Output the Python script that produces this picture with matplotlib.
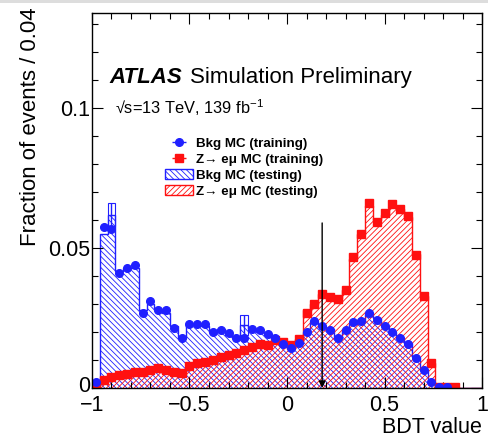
import numpy as np
import matplotlib
matplotlib.use("Agg")
import matplotlib.pyplot as plt
from matplotlib.patches import Patch, Rectangle
from matplotlib.transforms import ScaledTranslation

plt.rcParams['font.family'] = ['Liberation Sans', 'DejaVu Sans']
plt.rcParams['mathtext.default'] = 'regular'
plt.rcParams['hatch.linewidth'] = 0.6

# 50 bins of width 0.04 between -1 and 1
bin_edges = np.linspace(-1, 1, 51)

bkg_train = [0.002, 0.0575, 0.057, 0.041, 0.043, 0.044, 0.027, 0.031, 0.028, 0.028,
             0.0215, 0.018, 0.023, 0.023, 0.0228, 0.020, 0.0207, 0.0196, 0.018, 0.018,
             0.021, 0.0207, 0.0192, 0.018, 0.0157, 0.0143, 0.016, 0.020, 0.024, 0.022,
             0.0207, 0.018, 0.0207, 0.0236, 0.024, 0.027, 0.0245, 0.022, 0.020, 0.018,
             0.0157, 0.0107, 0.0064, 0.002, 0.0003, 0.0003, 0, 0, 0, 0]
bkg_test = [0.002, 0.055, 0.062, 0.042, 0.043, 0.043, 0.028, 0.030, 0.028, 0.027,
            0.022, 0.018, 0.023, 0.023, 0.022, 0.020, 0.021, 0.019, 0.018, 0.0225,
            0.021, 0.020, 0.019, 0.018, 0.016, 0.0145, 0.016, 0.020, 0.024, 0.022,
            0.021, 0.018, 0.021, 0.023, 0.024, 0.027, 0.025, 0.022, 0.020, 0.018,
            0.016, 0.011, 0.0065, 0.002, 0.0003, 0, 0, 0, 0, 0]
bkg_test_err = [0, 0, 0.004, 0, 0, 0, 0, 0, 0, 0,
                0, 0, 0, 0, 0, 0, 0, 0, 0, 0.0035,
                0, 0, 0, 0, 0, 0, 0, 0, 0, 0,
                0, 0, 0, 0, 0, 0, 0, 0, 0, 0,
                0, 0, 0, 0, 0, 0, 0, 0, 0, 0]
sig_train = [0.001, 0.003, 0.004, 0.0046, 0.005, 0.0057, 0.0057, 0.0064, 0.0071, 0.0064,
             0.0057, 0.0054, 0.0078, 0.009, 0.0093, 0.010, 0.011, 0.0118, 0.0125, 0.0136,
             0.0146, 0.0157, 0.0154, 0.017, 0.0164, 0.0155, 0.0175, 0.027, 0.030, 0.0335,
             0.0325, 0.0318, 0.035, 0.047, 0.055, 0.066, 0.0594, 0.0625, 0.0657, 0.064,
             0.0614, 0.0475, 0.033, 0.009, 0.0004, 0.0004, 0.0004, 0, 0, 0]
sig_test = [0.001, 0.003, 0.004, 0.0048, 0.005, 0.0058, 0.006, 0.0065, 0.007, 0.0065,
            0.006, 0.0055, 0.0078, 0.0088, 0.0095, 0.010, 0.011, 0.012, 0.0125, 0.0135,
            0.0148, 0.0155, 0.0155, 0.0168, 0.0165, 0.0158, 0.0175, 0.028, 0.030, 0.0335,
            0.032, 0.032, 0.035, 0.046, 0.055, 0.065, 0.060, 0.062, 0.065, 0.064,
            0.061, 0.048, 0.033, 0.009, 0.0004, 0.0003, 0.0003, 0, 0, 0]

bdt_cut = 0.18
cut_arrow_top = 0.059

blue = '#2020ff'
red = '#ff1010'
blue_hatch = '\\' * 6
red_hatch = '/' * 6

fig = plt.figure(figsize=(4.89, 4.37), dpi=100)
ax = fig.add_axes([0.188, 0.112, 0.798, 0.858])

# testing histograms (hatched)
ax.stairs(bkg_test, bin_edges, fill=True, facecolor='none', edgecolor=blue,
          hatch=blue_hatch, lw=1.0)
ax.stairs(sig_test, bin_edges, fill=True, facecolor='none', edgecolor=red,
          hatch=red_hatch, lw=1.0)

centers = 0.5 * (bin_edges[:-1] + bin_edges[1:])
bkg_test_a = np.array(bkg_test)
bkg_err_a = np.array(bkg_test_err)
has_err = bkg_err_a > 0
ax.bar(centers[has_err], 2 * bkg_err_a[has_err], width=0.04,
       bottom=bkg_test_a[has_err] - bkg_err_a[has_err],
       facecolor='none', edgecolor=blue, lw=0.8)
ax.errorbar(centers[has_err], bkg_test_a[has_err], yerr=bkg_err_a[has_err],
            fmt='none', ecolor=blue, elinewidth=1.0)

# training points
bkg_train_a = np.array(bkg_train)
sig_train_a = np.array(sig_train)
mb = bkg_train_a > 0
ms = sig_train_a > 0
h_sig = ax.errorbar(centers[ms], sig_train_a[ms], xerr=0.02, fmt='s', color=red,
                    ms=5.5, elinewidth=1.0)
h_bkg = ax.errorbar(centers[mb], bkg_train_a[mb], xerr=0.02, fmt='o', color=blue,
                    ms=5.5, elinewidth=1.0)

# BDT cut arrow
ax.annotate('', xy=(bdt_cut, 0.0), xytext=(bdt_cut, cut_arrow_top),
            arrowprops=dict(arrowstyle='-|>', color='black', lw=1.0,
                            mutation_scale=10, shrinkA=0, shrinkB=0))

ax.set_xlim(-1, 1)
ax.set_ylim(0, 0.134)
ax.set_xticks([-1, -0.5, 0, 0.5, 1])
ax.set_xticklabels(['\u22121', '\u22120.5', '0', '0.5', '1'])
ax.set_xticks(np.arange(-1, 1.001, 0.1), minor=True)
ax.set_yticks([0, 0.05, 0.1])
ax.set_yticklabels(['0', '0.05', '0.1'])
ax.set_yticks(np.arange(0, 0.134, 0.01), minor=True)
ax.tick_params(which='both', direction='in', top=True, right=True,
               labelsize=15.5, width=0.8)
ax.tick_params(axis='x', pad=5)
ax.tick_params(axis='y', pad=1.5)
ax.tick_params(which='major', length=8)
ax.tick_params(which='minor', length=4.5)
for s in ax.spines.values():
    s.set_linewidth(1.0)

# lift the "0" on the y axis a little so it clears the "-1" below it
zero_lbl = ax.yaxis.get_major_ticks()[0].label1
zero_lbl.set_transform(zero_lbl.get_transform()
                       + ScaledTranslation(0, 4 / 100, fig.dpi_scale_trans))

ax.set_xlabel('BDT value', fontsize=15.5, loc='right')
ax.xaxis.set_label_coords(1.0, -0.078)
ax.set_ylabel('Fraction of events / 0.04', fontsize=16, loc='top')
ax.yaxis.set_label_coords(-0.131, 1.016)

ax.text(0.046, 0.813, 'ATLAS', transform=ax.transAxes, fontsize=16,
        fontweight='bold', fontstyle='italic', va='baseline')
ax.text(0.251, 0.813, 'Simulation Preliminary', transform=ax.transAxes,
        fontsize=16, va='baseline')
ax.text(0.059, 0.731, '\u221as=13 TeV, 139 fb$^{-1}$', transform=ax.transAxes,
        fontsize=11.8, va='baseline')

handles = [h_bkg, h_sig,
           Patch(facecolor='none', edgecolor=blue, hatch=blue_hatch),
           Patch(facecolor='none', edgecolor=red, hatch=red_hatch)]
labels = ['Bkg MC (training)', 'Z\u2192 e\u03bc MC (training)',
          'Bkg MC (testing)', 'Z\u2192 e\u03bc MC (testing)']
ax.legend(handles, labels, loc='upper left', bbox_to_anchor=(0.187, 0.668),
          frameon=False, prop={'size': 9.6, 'weight': 'bold'},
          handlelength=2.1, handletextpad=0.2, labelspacing=0.27, borderpad=0,
          borderaxespad=0)

fig.patches.append(Rectangle((0, 1 - 3 / 437), 1, 3 / 437, transform=fig.transFigure,
                             facecolor='#dddddd', edgecolor='none'))

fig.savefig('out.png', dpi=100)
